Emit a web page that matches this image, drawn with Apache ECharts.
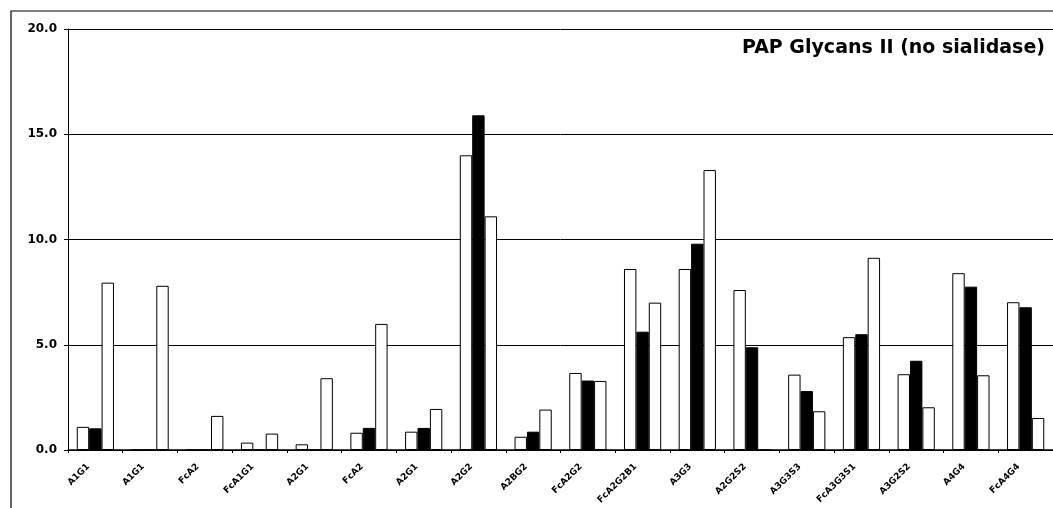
<!DOCTYPE html>
<html>
<head>
<meta charset="utf-8">
<script src="https://cdn.jsdelivr.net/npm/echarts@6/dist/echarts.min.js"></script>
<style>
  html, body { margin: 0; padding: 0; background: #fff; }
  #chart { width: 1053px; height: 508px; }
</style>
</head>
<body>
<div id="chart"></div>
<script>
// Glycan structures along the x axis
const categories = ['A1G1', 'A1G1', 'FcA2', 'FcA1G1', 'A2G1', 'FcA2', 'A2G1', 'A2G2', 'A2BG2',
  'FcA2G2', 'FcA2G2B1', 'A3G3', 'A2G2S2', 'A3G3S3', 'FcA3G3S1', 'A3G2S2', 'A4G4', 'FcA4G4'];

// Relative abundance (%) for the three samples
const sampleA = [1.1, 0, 0, 0.35, 0.27, 0.82, 0.87, 14.0, 0.63, 3.66, 8.6, 8.6, 7.6, 3.58, 5.36, 3.6, 8.4, 7.02];
const sampleB = [1.03, 0, 0, 0, 0, 1.05, 1.05, 15.9, 0.87, 3.3, 5.62, 9.8, 4.88, 2.8, 5.5, 4.24, 7.76, 6.78];
const sampleC = [7.95, 7.8, 1.62, 0.78, 3.41, 5.99, 1.95, 11.1, 1.92, 3.28, 7.0, 13.3, 0, 1.84, 9.13, 2.03, 3.55, 1.52];

const yTicks = { min: 0, max: 20, step: 5 };
const chartTitle = 'PAP Glycans II (no sialidase)';

const chart = echarts.init(document.getElementById('chart'));

const hollow = { color: '#ffffff', borderColor: '#000000', borderWidth: 1 };
const solid = { color: '#000000', borderColor: '#000000', borderWidth: 1 };

chart.setOption({
  animation: false,
  backgroundColor: '#ffffff',
  title: {
    text: chartTitle,
    right: 3,
    top: 34,
    textStyle: { fontFamily: 'DejaVu Sans', fontWeight: 'bold', fontSize: 19, color: '#000' }
  },
  // outer chart frame
  graphic: [{
    type: 'rect',
    shape: { x: 11, y: 11, width: 1200, height: 700 },
    style: { fill: 'none', stroke: '#000', lineWidth: 1.2 },
    silent: true,
    z: -1
  }],
  grid: { left: 68, right: -1, top: 29, bottom: 58 },
  xAxis: {
    type: 'category',
    data: categories,
    axisLine: { lineStyle: { color: '#000', width: 1.5 } },
    axisTick: { show: true, length: 3, lineStyle: { color: '#000' } },
    axisLabel: {
      interval: 0,
      rotate: 45,
      margin: 8,
      padding: [0, 10, 0, 0],
      color: '#000',
      fontFamily: 'DejaVu Sans',
      fontWeight: 'bold',
      fontSize: 9
    }
  },
  yAxis: {
    type: 'value',
    min: yTicks.min,
    max: yTicks.max,
    interval: yTicks.step,
    axisLine: { show: true, lineStyle: { color: '#000', width: 1 } },
    axisTick: { show: true, length: 4, lineStyle: { color: '#000' } },
    splitLine: { lineStyle: { color: '#000', width: 1 } },
    axisLabel: {
      margin: 11,
      color: '#000',
      fontFamily: 'DejaVu Sans',
      fontWeight: 'bold',
      fontSize: 12,
      formatter: v => v.toFixed(1)
    }
  },
  series: [
    { type: 'bar', data: sampleA, itemStyle: hollow, barGap: '0%', barCategoryGap: '32%' },
    { type: 'bar', data: sampleB, itemStyle: solid, barGap: '0%', barCategoryGap: '32%' },
    { type: 'bar', data: sampleC, itemStyle: hollow, barGap: '0%', barCategoryGap: '32%' }
  ]
});
</script>
</body>
</html>
